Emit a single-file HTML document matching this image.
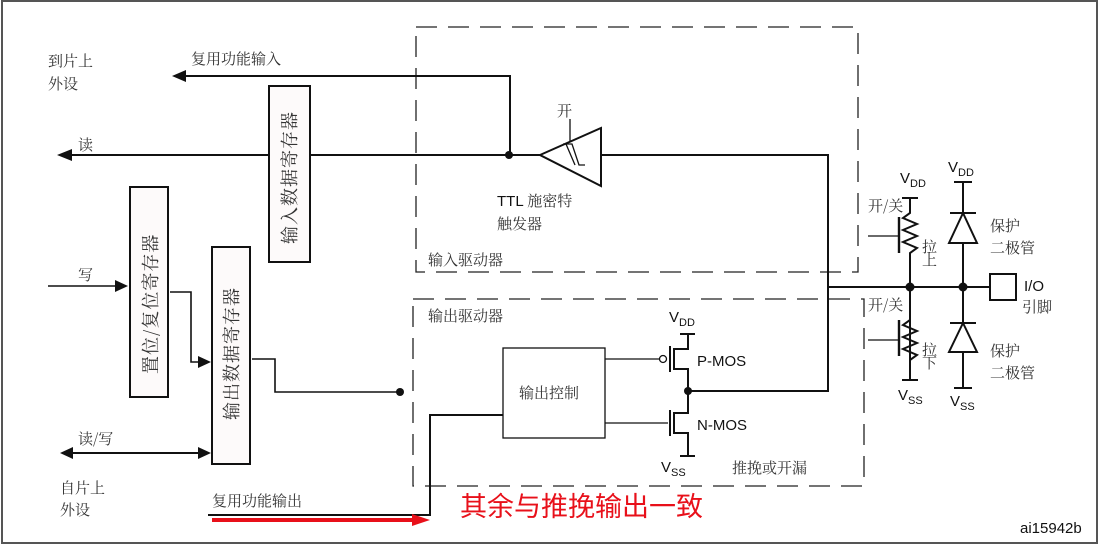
<!DOCTYPE html>
<html><head><meta charset="utf-8"><style>
html,body{margin:0;padding:0;background:#fff;}
svg{display:block;font-family:"Liberation Sans","Noto Sans CJK SC",sans-serif;}
.c{font-family:"Noto Serif CJK SC","Noto Sans CJK SC",serif;fill:#333;font-size:15px;}
.e{font-family:"Liberation Sans",sans-serif;fill:#111;font-size:15px;}
.v{font-family:"Noto Serif CJK SC","Noto Sans CJK SC",serif;fill:#333;font-size:18px;letter-spacing:1px;}
</style></head><body>
<svg width="1101" height="545" viewBox="0 0 1101 545" xmlns="http://www.w3.org/2000/svg">
<rect x="2" y="1" width="1095" height="542" fill="none" stroke="#555" stroke-width="2"/>
<g fill="none" stroke="#222" stroke-width="1.3" stroke-dasharray="21,11">
<rect x="416" y="27" width="442" height="245"/>
<rect x="413" y="299" width="451" height="187"/>
</g>
<g stroke="#111" stroke-width="2" fill="none">
<polyline points="186,76 510,76 510,155"/>
<line x1="72" y1="155" x2="540" y2="155"/>
<polyline points="601,155 828,155 828,391 688,391"/>
<line x1="828" y1="287" x2="990" y2="287"/>
<polygon points="540,155 601,128 601,186" fill="#fff"/>
<polyline points="170,292 191,292 191,362 200,362" stroke-width="1.6"/>
<polyline points="252,359 275,359 275,392 398,392" stroke-width="1.6"/>
<line x1="48" y1="286" x2="116" y2="286" stroke-width="1.4"/>
<line x1="72" y1="453" x2="198" y2="453"/>
<polyline points="208,515 430,515 430,415 503,415"/>
<line x1="605" y1="359" x2="659" y2="359" stroke-width="1.3"/>
<line x1="605" y1="423" x2="668" y2="423" stroke-width="1.3"/>
<line x1="670" y1="346" x2="670" y2="372"/>
<line x1="670" y1="410" x2="670" y2="436"/>
<polyline points="680,334 688,334 688,349 674,349 674,369 688,369 688,413 674,413 674,433 688,433 688,456"/>
<line x1="680" y1="334" x2="695" y2="334"/>
<line x1="680" y1="456" x2="695" y2="456"/>
<line x1="902" y1="198" x2="918" y2="198"/>
<polyline points="910,198 910,213 903,218 917,224 903,230 917,236 903,242 917,248 910,253 910,380"/>
<line x1="902" y1="380" x2="918" y2="380"/>
<polyline points="910,305 910,320 903,325 917,331 903,337 917,343 903,349 917,355 910,360"/>
<line x1="899" y1="217" x2="899" y2="253" stroke-width="2.4"/>
<line x1="899" y1="320" x2="899" y2="356" stroke-width="2.4"/>
<line x1="868" y1="236" x2="899" y2="236" stroke-width="1.3"/>
<line x1="868" y1="340" x2="899" y2="340" stroke-width="1.3"/>
<line x1="954" y1="182" x2="972" y2="182"/>
<line x1="963" y1="182" x2="963" y2="388"/>
<line x1="954" y1="388" x2="972" y2="388"/>
<line x1="950" y1="213" x2="976" y2="213"/>
<polygon points="963,213 949,243 977,243" fill="#fff"/>
<line x1="950" y1="323" x2="976" y2="323"/>
<polygon points="963,323 949,352 977,352" fill="#fff"/>
<rect x="990" y="274" width="26" height="26" fill="#fff"/>
<rect x="269" y="86" width="41" height="176" fill="#fdfafa"/>
<rect x="130" y="187" width="38" height="210" fill="#fdfafa"/>
<rect x="212" y="247" width="38" height="217" fill="#fdfafa"/>
<rect x="503" y="348" width="102" height="90" fill="#fff" stroke-width="1.3"/>
</g>
<g stroke="#111" stroke-width="1.3" fill="none">
<line x1="570" y1="119" x2="570" y2="141"/>
<polyline points="563,144 572,144 579,165 585,165"/>
<polyline points="566,144 575,165"/>
<circle cx="663" cy="359" r="3.5" fill="#fff"/>
</g>
<g fill="#111">
<polygon points="172,76 186,70 186,82"/>
<polygon points="57,155 72,149 72,161"/>
<polygon points="128,286 115,280 115,292"/>
<polygon points="211,362 198,356 198,368"/>
<polygon points="60,453 73,447 73,459"/>
<polygon points="211,453 198,447 198,459"/>
<circle cx="509" cy="155" r="4"/>
<circle cx="400" cy="392" r="4"/>
<circle cx="688" cy="391" r="4"/>
<circle cx="910" cy="287" r="4.5"/>
<circle cx="963" cy="287" r="4.5"/>
</g>
<line x1="212" y1="520" x2="415" y2="520" stroke="#e8101a" stroke-width="4"/>
<polygon points="430,520 412,514 412,526" fill="#e8101a"/>
<text class="c" x="48" y="66">到片上</text>
<text class="c" x="48" y="89">外设</text>
<text class="c" x="191" y="64">复用功能输入</text>
<text class="c" x="78" y="150">读</text>
<text class="c" x="78" y="280">写</text>
<text class="c" x="78" y="444">读/写</text>
<text class="c" x="60" y="493">自片上</text>
<text class="c" x="60" y="515">外设</text>
<text class="c" x="212" y="506">复用功能输出</text>
<text class="c" x="557" y="116" font-size="13">开</text>
<text class="e" x="497" y="206">TTL <tspan class="c">施密特</tspan></text>
<text class="c" x="497" y="229">触发器</text>
<text class="c" x="428" y="265">输入驱动器</text>
<text class="c" x="428" y="321">输出驱动器</text>
<text class="c" x="519" y="398">输出控制</text>
<text class="e" x="697" y="366">P-MOS</text>
<text class="e" x="697" y="430">N-MOS</text>
<text class="e" x="669" y="322">V<tspan font-size="11" dy="4">DD</tspan></text>
<text class="e" x="661" y="472">V<tspan font-size="11" dy="4">SS</tspan></text>
<text class="c" x="732" y="473">推挽或开漏</text>
<text class="e" x="900" y="183">V<tspan font-size="11" dy="4">DD</tspan></text>
<text class="e" x="948" y="172">V<tspan font-size="11" dy="4">DD</tspan></text>
<text class="e" x="898" y="400">V<tspan font-size="11" dy="4">SS</tspan></text>
<text class="e" x="950" y="406">V<tspan font-size="11" dy="4">SS</tspan></text>
<text class="c" x="868" y="211">开/关</text>
<text class="c" x="868" y="310">开/关</text>
<text class="c" x="922" y="252" font-size="11">拉</text>
<text class="c" x="922" y="265" font-size="11">上</text>
<text class="c" x="922" y="355" font-size="11">拉</text>
<text class="c" x="922" y="368" font-size="11">下</text>
<text class="c" x="990" y="231">保护</text>
<text class="c" x="990" y="253">二极管</text>
<text class="c" x="990" y="356">保护</text>
<text class="c" x="990" y="378">二极管</text>
<text class="e" x="1024" y="291" font-size="16">I/O</text>
<text class="c" x="1022" y="312">引脚</text>
<text x="460" y="516" font-size="27" fill="#e8101a" font-family="'Noto Sans CJK SC',sans-serif">其余与推挽输出一致</text>
<text class="e" x="1020" y="533" font-size="14">ai15942b</text>
<text class="v" font-size="19" letter-spacing="1.5" transform="translate(296,244) rotate(-90)">输入数据寄存器</text>
<text class="v" transform="translate(157,374) rotate(-90)">置位/复位寄存器</text>
<text class="v" transform="translate(238,420) rotate(-90)">输出数据寄存器</text>
</svg>
</body></html>
